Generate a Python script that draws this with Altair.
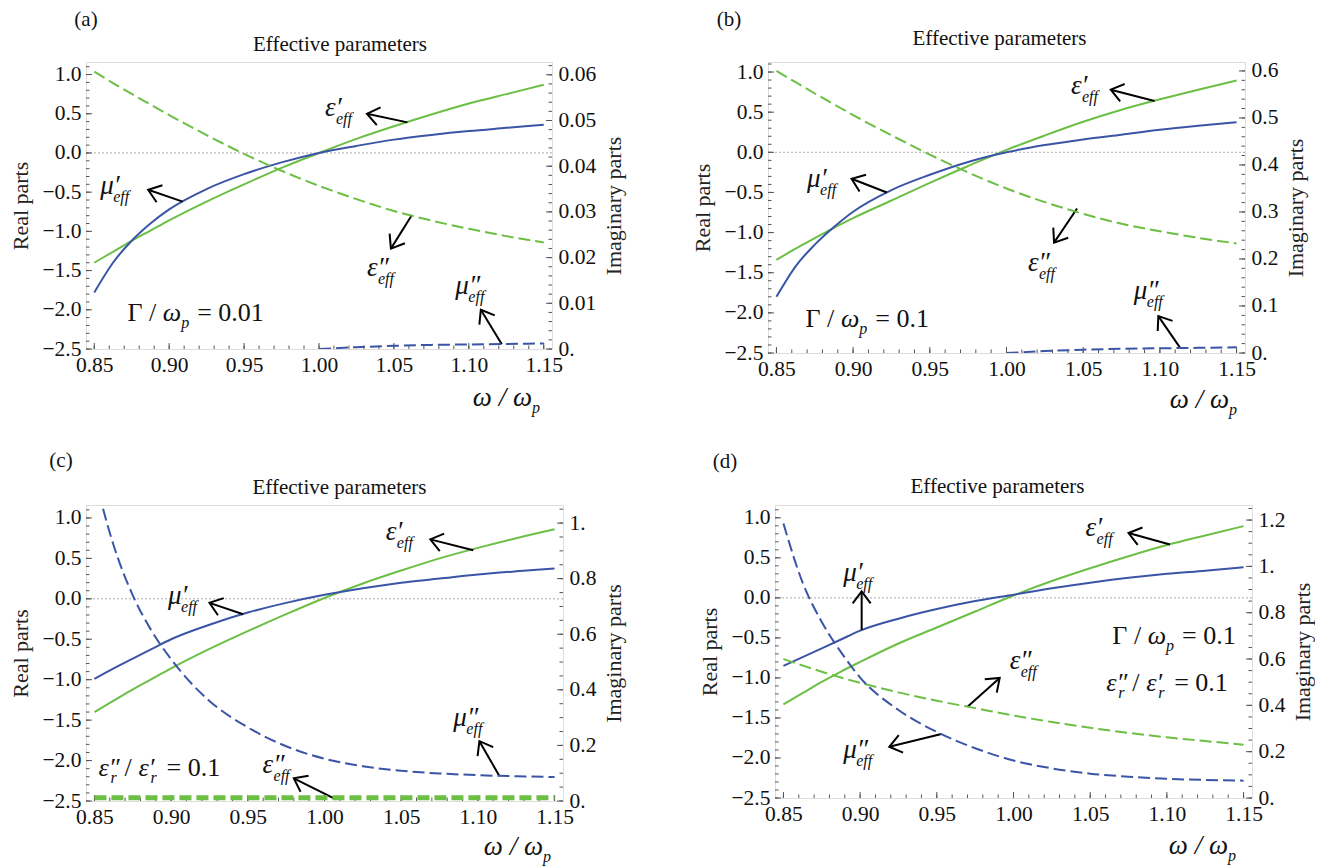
import math
import altair as alt
import pandas as pd

# ---------------- data ----------------
X = [0.85, 0.8625, 0.875, 0.8875, 0.9, 0.925, 0.95, 0.975, 1.0, 1.025, 1.05, 1.075, 1.1, 1.125, 1.15]

# panel (a)  Gamma/omega_p = 0.01
A_MU_RE = [-1.78, -1.40, -1.12, -0.90, -0.72, -0.46, -0.27, -0.12, 0.0, 0.09, 0.17, 0.23, 0.28, 0.32, 0.36]
A_EPS_RE = [-1.40, -1.26, -1.12, -0.99, -0.86, -0.62, -0.40, -0.19, 0.0, 0.18, 0.34, 0.49, 0.63, 0.75, 0.87]
A_EPS_IM = [0.0607, 0.0582, 0.0558, 0.0535, 0.0512, 0.0468, 0.0427, 0.039, 0.0357, 0.0328, 0.0302, 0.0281, 0.0263, 0.0247, 0.0233]
A_MU_IM = [None, None, None, None, None, None, None, None, 0.0, 0.0004, 0.0007, 0.0009, 0.0010, 0.0011, 0.0012]

# panel (b)  Gamma/omega_p = 0.1
B_MU_RE = [-1.80, -1.42, -1.15, -0.93, -0.74, -0.47, -0.28, -0.12, 0.0, 0.09, 0.16, 0.22, 0.28, 0.33, 0.375]
B_EPS_RE = [-1.34, -1.20, -1.07, -0.94, -0.82, -0.60, -0.38, -0.17, 0.03, 0.21, 0.38, 0.53, 0.66, 0.78, 0.895]
B_EPS_IM = [0.60, 0.576, 0.552, 0.529, 0.506, 0.463, 0.422, 0.384, 0.350, 0.321, 0.296, 0.275, 0.259, 0.245, 0.233]
B_MU_IM = [None, None, None, None, None, None, None, None, 0.0, 0.004, 0.007, 0.009, 0.010, 0.011, 0.012]

# panel (c)  eps''_r/eps'_r = 0.1
C_MU_RE = [-0.99, -0.86, -0.74, -0.62, -0.50, -0.32, -0.17, -0.05, 0.05, 0.13, 0.20, 0.25, 0.30, 0.34, 0.376]
C_EPS_RE = [-1.40, -1.26, -1.12, -0.99, -0.86, -0.62, -0.40, -0.19, 0.01, 0.19, 0.35, 0.50, 0.63, 0.75, 0.86]
C_EPS_IM = [0.012, 0.012, 0.012, 0.012, 0.012, 0.012, 0.012, 0.012, 0.012, 0.012, 0.012, 0.012, 0.012, 0.012, 0.012]
C_MU_IM = [1.17, 0.92, 0.74, 0.61, 0.51, 0.36, 0.265, 0.197, 0.152, 0.125, 0.109, 0.099, 0.093, 0.089, 0.086]

# panel (d)  both losses
D_MU_RE = [-0.85, -0.74, -0.63, -0.52, -0.41, -0.26, -0.14, -0.04, 0.04, 0.12, 0.19, 0.25, 0.30, 0.34, 0.383]
D_EPS_RE = [-1.33, -1.19, -1.05, -0.92, -0.80, -0.57, -0.37, -0.17, 0.03, 0.21, 0.37, 0.52, 0.66, 0.78, 0.896]
D_EPS_IM = [0.60, 0.572, 0.545, 0.520, 0.497, 0.456, 0.42, 0.388, 0.356, 0.328, 0.303, 0.281, 0.262, 0.246, 0.23]
D_MU_IM = [1.185, 0.93, 0.76, 0.63, 0.52, 0.38, 0.285, 0.215, 0.162, 0.128, 0.105, 0.092, 0.083, 0.078, 0.075]

# ticks
X_MAJ = [0.85, 0.90, 0.95, 1.00, 1.05, 1.10, 1.15]
X_MIN = [round(0.85 + 0.01 * k, 2) for k in range(31)]
Y_MAJ = [-2.5, -2.0, -1.5, -1.0, -0.5, 0.0, 0.5, 1.0]
Y_MIN = [round(-2.5 + 0.1 * k, 1) for k in range(37)]
A_IMAJ = [0.0, 0.01, 0.02, 0.03, 0.04, 0.05, 0.06]
A_IMIN = [round(0.002 * k, 3) for k in range(32)]
B_IMAJ = [0.0, 0.1, 0.2, 0.3, 0.4, 0.5, 0.6]
B_IMIN = [round(0.02 * k, 2) for k in range(31)]
C_IMAJ = [0.0, 0.2, 0.4, 0.6, 0.8, 1.0]
C_IMIN = [round(0.05 * k, 2) for k in range(22)]
D_IMAJ = [0.0, 0.2, 0.4, 0.6, 0.8, 1.0, 1.2]
D_IMIN = [round(0.05 * k, 2) for k in range(26)]

# annotations: symbol, x, y (left edge of glyph, real-part units)
A_LAB = [("ε′", 1.004, 0.57), ("μ′", 0.854, -0.42), ("ε″", 1.032, -1.47), ("μ″", 1.091, -1.70)]
A_ARR = [(1.059, 0.39, 1.032, 0.50), (0.909, -0.62, 0.886, -0.47), (1.062, -0.79, 1.048, -1.22), (1.122, -2.44, 1.108, -2.0)]
B_LAB = [("ε′", 1.042, 0.83), ("μ′", 0.870, -0.33), ("ε″", 1.014, -1.375), ("μ″", 1.083, -1.73)]
B_ARR = [(1.0965, 0.64, 1.068, 0.78), (0.922, -0.50, 0.899, -0.33), (1.046, -0.70, 1.031, -1.125), (1.113, -2.43, 1.099, -2.04)]
C_LAB = [("ε′", 1.040, 0.82), ("μ′", 0.898, 0.03), ("μ″", 1.084, -1.475), ("ε″", 0.9596, -2.05)]
C_ARR = [(1.097, 0.60, 1.069, 0.735), (0.947, -0.19, 0.925, -0.05), (1.114, -2.19, 1.101, -1.76), (1.0075, -2.48, 0.980, -2.22)]
D_LAB = [("ε′", 1.047, 0.875), ("μ′", 0.889, 0.31), ("ε″", 0.9975, -0.79), ("μ″", 0.889, -1.90)]
D_ARR = [(1.102, 0.667, 1.075, 0.81), (0.901, -0.40, 0.901, 0.08), (0.970, -1.36, 0.991, -1.0), (0.953, -1.70, 0.919, -1.86)]

FONT = "Liberation Serif"
BLUE = "#3b55a6"
GREEN = "#6cbf45"
FRAME = "#333333"
TICK = "#555555"
ARROW_PATH = "M -1 -0.75 L 0 0 L -1 0.75"

PANELS = [
    dict(tag="(a)", w=466, h=287, ydom=[-2.5, 1.16], idom=[0, 0.0628], imaj=A_IMAJ, imin=A_IMIN,
         lexpr="datum.value == 0 ? '0.' : format(datum.value, '.2f')",
         mu_re=A_MU_RE, eps_re=A_EPS_RE, eps_im=A_EPS_IM, mu_im=A_MU_IM,
         lab=A_LAB, arr=A_ARR, tagpos=(0, -42), title=(21, -17), xlab=(446, 336),
         gam=(0.908, -2.04, "0.01"), ratio=None, eps_im_width=2),
    dict(tag="(b)", w=477, h=291, ydom=[-2.5, 1.125], idom=[0, 0.619], imaj=B_IMAJ, imin=B_IMIN,
         lexpr="datum.value == 0 ? '0.' : format(datum.value, '.1f')",
         mu_re=B_MU_RE, eps_re=B_EPS_RE, eps_im=B_EPS_IM, mu_im=B_MU_IM,
         lab=B_LAB, arr=B_ARR, tagpos=(-39, -42), title=(-7, -23), xlab=(461, 338),
         gam=(0.904, -2.08, "0.1"), ratio=None, eps_im_width=2),
    dict(tag="(c)", w=477, h=296, ydom=[-2.5, 1.16], idom=[0, 1.065], imaj=C_IMAJ, imin=C_IMIN,
         lexpr="datum.value == 0 ? '0.' : (datum.value == 1 ? '1.' : format(datum.value, '.1f'))",
         mu_re=C_MU_RE, eps_re=C_EPS_RE, eps_im=C_EPS_IM, mu_im=C_MU_IM,
         lab=C_LAB, arr=C_ARR, tagpos=(-25, -44), title=(15, -17), xlab=(457, 342),
         gam=None, ratio=(0.8527, -2.095), eps_im_width=5),
    dict(tag="(d)", w=477, h=293, ydom=[-2.5, 1.16], idom=[0, 1.265], imaj=D_IMAJ, imin=D_IMIN,
         lexpr="datum.value == 0 ? '0.' : (datum.value == 1 ? '1.' : format(datum.value, '.1f'))",
         mu_re=D_MU_RE, eps_re=D_EPS_RE, eps_im=D_EPS_IM, mu_im=D_MU_IM,
         lab=D_LAB, arr=D_ARR, tagpos=(-50, -43), title=(-16, -18), xlab=(453, 341),
         gam=(1.0995, -0.48, "0.1"), ratio=(1.0604, -1.06), eps_im_width=2),
]

XD = [0.8445, 1.1555]
ONE = pd.DataFrame({"k": [0]})
LABEL_SIZE = 21.5
AXTITLE_SIZE = 22


def build(p):
    W, H = p["w"], p["h"]
    YD = p["ydom"]
    ID = p["idom"]
    sx = W / (XD[1] - XD[0])
    sy = H / (YD[1] - YD[0])
    xscale = alt.Scale(domain=XD, nice=False, zero=False)
    yscale = alt.Scale(domain=YD, nice=False, zero=False)
    iscale = alt.Scale(domain=ID, nice=False, zero=False)
    common = dict(ticks=False, tickSize=0, domain=False, grid=False, labelFont=FONT,
                  labelFontSize=LABEL_SIZE, labelColor="#111", labelFlush=False, labelOverlap=False)
    xaxis = alt.Axis(values=X_MAJ, format=".2f", labelPadding=5, title=None, **common)
    yaxis = alt.Axis(values=Y_MAJ, format=".1f", labelPadding=5, title="Real parts",
                     titleFont=FONT, titleFontSize=AXTITLE_SIZE, titleFontWeight="normal",
                     titleColor="#222", titlePadding=9, **common)
    iaxis = alt.Axis(orient="right", values=p["imaj"], labelExpr=p["lexpr"], labelPadding=6,
                     title="Imaginary parts", titleAngle=270, titleBaseline="top",
                     titleFont=FONT, titleFontSize=AXTITLE_SIZE, titleFontWeight="normal",
                     titleColor="#222", titlePadding=8, **common)

    def XE(f="x"):
        return alt.X(f"{f}:Q", scale=xscale, axis=xaxis)

    def YE(f):
        return alt.Y(f"{f}:Q", scale=yscale, axis=yaxis)

    def IE(f):
        return alt.Y(f"{f}:Q", scale=iscale, axis=iaxis)

    df = pd.DataFrame({"x": X, "mu_re": p["mu_re"], "eps_re": p["eps_re"],
                       "eps_im": p["eps_im"], "mu_im": p["mu_im"]})

    zero = alt.Chart(pd.DataFrame({"y": [0.0]})).mark_rule(
        color="#aaaaaa", strokeDash=[2, 2], strokeWidth=1).encode(y=YE("y"))
    l_eps = alt.Chart(df).mark_line(color=GREEN, strokeWidth=2, interpolate="monotone",
                                    clip=True).encode(x=XE(), y=YE("eps_re"))
    l_mu = alt.Chart(df).mark_line(color=BLUE, strokeWidth=2, interpolate="monotone",
                                   clip=True).encode(x=XE(), y=YE("mu_re"))

    bt_maj = alt.Chart(pd.DataFrame({"x": X_MAJ})).mark_rule(color=TICK, strokeWidth=1).encode(
        x=XE(), y=alt.value(H), y2=alt.value(H - 6))
    bt_min = alt.Chart(pd.DataFrame({"x": X_MIN})).mark_rule(color=TICK, strokeWidth=1).encode(
        x=XE(), y=alt.value(H), y2=alt.value(H - 3.5))
    lt_maj = alt.Chart(pd.DataFrame({"y": Y_MAJ})).mark_rule(color=TICK, strokeWidth=1).encode(
        y=YE("y"), x=alt.value(0), x2=alt.value(6))
    lt_min = alt.Chart(pd.DataFrame({"y": Y_MIN})).mark_rule(color=TICK, strokeWidth=1).encode(
        y=YE("y"), x=alt.value(0), x2=alt.value(3.5))

    # arrows
    arr = pd.DataFrame(p["arr"], columns=["xt", "yt", "xh", "yh"])
    arr["ang"] = [
        math.degrees(math.atan2(-(r.yh - r.yt) * sy, (r.xh - r.xt) * sx)) % 360
        for r in arr.itertuples()
    ]
    shafts = alt.Chart(arr).mark_rule(color="black", strokeWidth=2).encode(
        x=XE("xt"), y=YE("yt"), x2=alt.X2("xh"), y2=alt.Y2("yh"))
    heads = alt.Chart(arr).mark_point(shape=ARROW_PATH, size=576, filled=False, color="black",
                                      strokeWidth=2, opacity=1).encode(
        x=XE("xh"), y=YE("yh"), angle=alt.Angle("ang:Q", scale=None))

    lab = pd.DataFrame(p["lab"], columns=["sym", "x", "y"])
    lab["subdx"] = [11 if s.startswith("ε") else 13 for s in lab["sym"]]
    main = alt.Chart(lab).mark_text(font=FONT, fontSize=27, fontStyle="italic", align="left",
                                    baseline="middle", color="#111").encode(
        x=XE("x"), y=YE("y"), text="sym:N")
    subs = []
    for dxv in sorted(set(lab["subdx"])):
        subs.append(alt.Chart(lab[lab["subdx"] == dxv]).mark_text(
            text="eff", font=FONT, fontSize=16, fontStyle="italic", align="left",
            baseline="middle", dx=dxv, dy=11, color="#111").encode(x=XE("x"), y=YE("y")))

    extra = []
    if p["gam"] is not None:
        gx, gy, gval = p["gam"]
        gdf = pd.DataFrame({"x": [gx], "y": [gy]})
        extra.append(alt.Chart(gdf).mark_text(text="Γ /", font=FONT, fontSize=26, align="right",
                                              baseline="middle", dx=-25, color="#111").encode(x=XE("x"), y=YE("y")))
        extra.append(alt.Chart(gdf).mark_text(text="ω", font=FONT, fontSize=26, fontStyle="italic",
                                              align="right", baseline="middle", color="#111").encode(x=XE("x"), y=YE("y")))
        extra.append(alt.Chart(gdf).mark_text(text="p", font=FONT, fontSize=16, fontStyle="italic",
                                              align="left", baseline="middle", dx=0, dy=10, color="#111").encode(x=XE("x"), y=YE("y")))
        extra.append(alt.Chart(gdf).mark_text(text="=  " + gval, font=FONT, fontSize=26,
                                              align="left", baseline="middle", dx=16, color="#111").encode(x=XE("x"), y=YE("y")))
    if p["ratio"] is not None:
        rx, ry = p["ratio"]
        rdf = pd.DataFrame({"x": [rx], "y": [ry]})
        parts = [("ε″", 26, "italic", 0, 0), ("r", 16, "italic", 12, 10), ("/", 26, "normal", 26, 0),
                 ("ε′", 26, "italic", 40, 0), ("r", 16, "italic", 52, 10), ("=  0.1", 26, "normal", 68, 0)]
        for t, fs, st, dxv, dyv in parts:
            extra.append(alt.Chart(rdf).mark_text(text=t, font=FONT, fontSize=fs, fontStyle=st,
                                                  align="left", baseline="middle", dx=dxv, dy=dyv,
                                                  color="#111").encode(x=XE("x"), y=YE("y")))

    # outside texts in pixel space
    tx, ty = p["tagpos"]
    tag = alt.Chart(ONE).mark_text(text=p["tag"], font=FONT, fontSize=21, align="center",
                                   baseline="middle", color="#111").encode(x=alt.value(tx), y=alt.value(ty))
    tdx, tdy = p["title"]
    title = alt.Chart(ONE).mark_text(text="Effective parameters", font=FONT, fontSize=21, align="center",
                                     baseline="middle", color="#111").encode(
        x=alt.value(W / 2 + tdx), y=alt.value(tdy))
    lx, ly = p["xlab"]
    xl1 = alt.Chart(ONE).mark_text(text="ω / ω", font=FONT, fontSize=27, fontStyle="italic", align="right",
                                   baseline="middle", color="#111").encode(x=alt.value(lx), y=alt.value(ly))
    xl2 = alt.Chart(ONE).mark_text(text="p", font=FONT, fontSize=16, fontStyle="italic", align="left",
                                   baseline="middle", color="#111").encode(x=alt.value(lx), y=alt.value(ly + 10))

    real_group = alt.layer(zero, l_eps, l_mu, bt_min, bt_maj, lt_min, lt_maj, shafts, heads, main,
                           *subs, *extra, tag, title, xl1, xl2)

    l_eps_im = alt.Chart(df).mark_line(color=GREEN, strokeWidth=p["eps_im_width"], strokeDash=[12, 5],
                                       interpolate="monotone", clip=True).encode(x=XE(), y=IE("eps_im"))
    l_mu_im = alt.Chart(df).mark_line(color=BLUE, strokeWidth=2, strokeDash=[12, 5],
                                      interpolate="monotone", clip=True).encode(x=XE(), y=IE("mu_im"))
    rt_maj = alt.Chart(pd.DataFrame({"y": p["imaj"]})).mark_rule(color=TICK, strokeWidth=1).encode(
        y=IE("y"), x=alt.value(W), x2=alt.value(W - 6))
    rt_min = alt.Chart(pd.DataFrame({"y": p["imin"]})).mark_rule(color=TICK, strokeWidth=1).encode(
        y=IE("y"), x=alt.value(W), x2=alt.value(W - 3.5))
    imag_group = alt.layer(l_eps_im, l_mu_im, rt_min, rt_maj)

    return alt.layer(real_group, imag_group).resolve_scale(y="independent").properties(width=W, height=H)


charts = [build(p) for p in PANELS]
top = alt.hconcat(charts[0], charts[1], spacing=65)
bottom = alt.hconcat(charts[2], charts[3], spacing=72)
chart = (
    alt.vconcat(top, bottom, spacing=30)
    .properties(padding={"left": 9, "top": 8, "right": 0, "bottom": 0})
    .configure_view(stroke=FRAME, strokeWidth=1)
    .configure_axis(labelFont=FONT, labelFontSize=LABEL_SIZE, titleFont=FONT, titleFontSize=AXTITLE_SIZE,
                    titleFontWeight="normal", labelColor="#111")
    .configure_text(font=FONT)
    .configure(background="white")
)

chart.save("out.html", embed_options={"renderer": "svg", "actions": False})
